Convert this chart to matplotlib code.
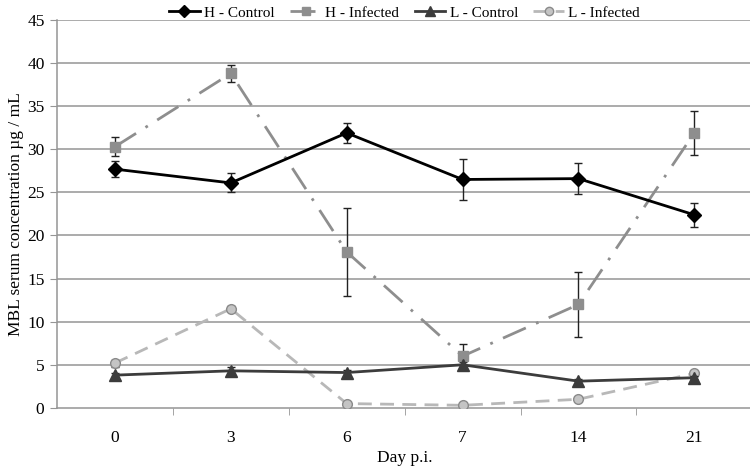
import matplotlib
matplotlib.use("Agg")
from matplotlib import pyplot as plt
from matplotlib.lines import Line2D

# days post infection (category axis)
days = ["0", "3", "6", "7", "14", "21"]

h_control = [27.7, 26.1, 31.9, 26.5, 26.6, 22.4]
h_control_err = [0.9, 1.1, 1.2, 2.4, 1.8, 1.4]

h_infected = [30.3, 38.8, 18.1, 6.0, 12.0, 31.9]
h_infected_err = [1.1, 1.0, 5.1, 1.4, 3.8, 2.6]

l_control = [3.8, 4.3, 4.1, 5.0, 3.1, 3.5]
l_control_err = [0.2, 0.4, 0.3, 0.3, 0.2, 0.2]

l_infected = [5.2, 11.5, 0.5, 0.3, 1.0, 4.0]
l_infected_err = [0.4, 0.3, 0.1, 0.1, 0.1, 0.3]

plt.rcParams["font.family"] = ["Liberation Serif", "DejaVu Serif"]

fig = plt.figure(figsize=(7.5, 4.71), dpi=100)
ax = fig.add_axes([0.076, 0.134, 0.927, 0.8235])

x = list(range(len(days)))
grid_col = "#959595"

for yv in range(5, 50, 5):
    ax.axhline(yv, color=grid_col, lw=1.1, zorder=0)

err_kw = dict(ecolor="#222222", elinewidth=1.0, capsize=3, capthick=1.0)

# (label, values, errors, line colour, linestyle, marker, size, face, edge, zorder)
series = [
    ("H - Control", h_control, h_control_err, "black", "-", "D", 7, "black", "black", 5),
    ("H - Infected", h_infected, h_infected_err, "#8e8e8e", (0, (9, 4, 1, 4)), "s", 7, "#8e8e8e", "#8e8e8e", 4),
    ("L - Control", l_control, l_control_err, "#3c3c3c", "-", "^", 8, "#3c3c3c", "#3c3c3c", 4),
    ("L - Infected", l_infected, l_infected_err, "#b8b8b8", (0, (5, 3)), "o", 7, "#c4c4c4", "#8a8a8a", 3),
]

handles = []
for label, vals, errs, col, ls, mk, ms, fc, ec, z in series:
    ax.errorbar(x, vals, yerr=errs, color=col, lw=2.0, ls=ls, marker=mk, ms=ms,
                mfc=fc, mec=ec, zorder=z, **err_kw)
    handles.append(Line2D([], [], color=col, lw=2.0, ls=ls, marker=mk, ms=ms - 1,
                          mfc=fc, mec=ec, label=label))

ax.set_xlim(-0.5, len(days) - 0.5)
ax.set_ylim(0, 45)
ax.set_yticks(range(0, 50, 5))
ax.set_xticks(x)
ax.set_xticklabels(days)
ax.set_xticks([i + 0.5 for i in range(len(days) - 1)], minor=True)

ax.tick_params(axis="x", which="major", length=0, pad=16, labelsize=12.5)
ax.tick_params(axis="x", which="minor", length=5, color=grid_col, direction="out")
ax.tick_params(axis="y", length=5, color=grid_col, labelsize=12.5, pad=4)

for side in ["top", "right"]:
    ax.spines[side].set_visible(False)
for side in ["left", "bottom"]:
    ax.spines[side].set_color(grid_col)
    ax.spines[side].set_linewidth(1.1)

ax.set_xlabel("Day p.i.", fontsize=12.5, labelpad=3)
ax.set_ylabel("MBL serum concentration µg / mL", fontsize=12.5)
ax.yaxis.set_label_coords(-0.048, 0.5)

ax.legend(handles=handles, loc="lower center", bbox_to_anchor=(0.5, 0.985), ncol=4,
          frameon=False, fontsize=11, handlelength=2.0, handletextpad=0.3,
          columnspacing=1.0, borderaxespad=0)

fig.savefig("out.png", dpi=100)
plt.close(fig)
